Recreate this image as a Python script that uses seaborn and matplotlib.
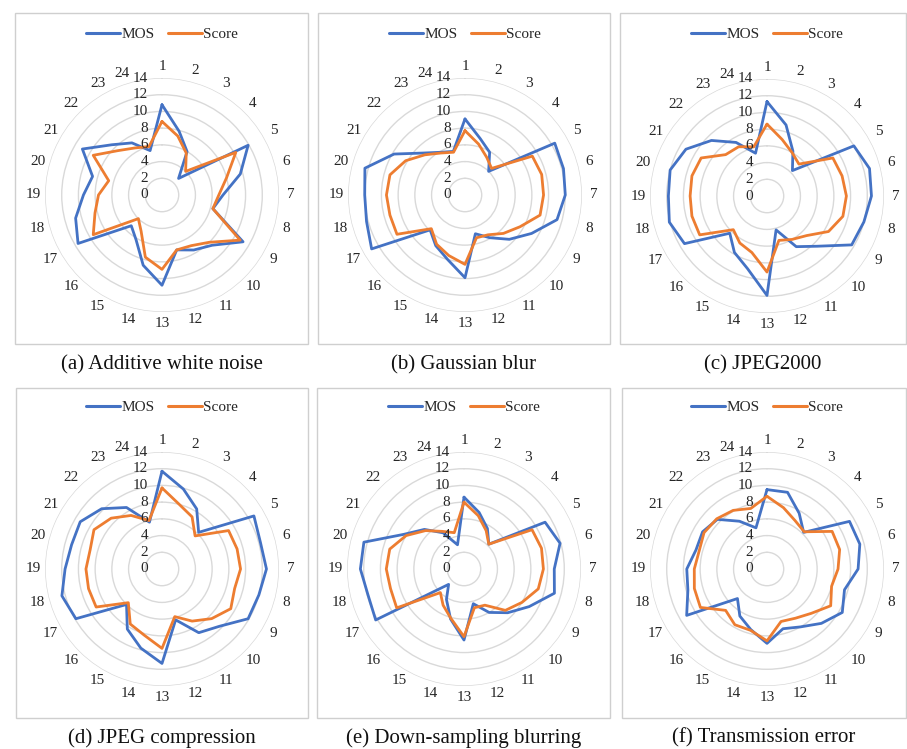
import numpy as np
import matplotlib
matplotlib.use("Agg")
import matplotlib.pyplot as plt
from matplotlib.lines import Line2D
from matplotlib.patches import Rectangle
from matplotlib.transforms import ScaledTranslation
import seaborn as sns

# ---------------- data ----------------
categories = [str(i) for i in range(1, 25)]
r_ticks = [0, 2, 4, 6, 8, 10, 12, 14]
series_names = ["MOS", "Score"]
captions = ["(a) Additive white noise", "(b) Gaussian blur", "(c) JPEG2000",
            "(d) JPEG compression", "(e) Down-sampling blurring", "(f) Transmission error"]

a_mos = [10.8, 7.9, 6.0, 2.8, 11.9, 9.7, 7.3, 6.3, 11.2, 8.5, 7.6, 6.8,
         10.8, 8.7, 6.2, 5.2, 11.6, 10.7, 9.4, 8.6, 11.0, 8.5, 7.2, 5.5]
a_score = [8.8, 7.3, 5.8, 4.0, 10.2, 8.0, 6.8, 6.3, 10.8, 8.0, 7.0, 6.8,
           8.9, 7.7, 5.0, 4.0, 9.5, 8.3, 7.6, 6.6, 9.5, 7.5, 6.5, 6.0]
b_mos = [9.1, 7.0, 5.9, 4.0, 12.4, 12.2, 12.0, 11.4, 9.2, 7.5, 5.9, 4.8,
         9.9, 8.0, 7.0, 5.9, 12.9, 12.2, 12.0, 12.4, 9.8, 7.1, 5.9, 5.4]
b_score = [7.7, 6.3, 5.2, 4.5, 9.3, 9.5, 9.4, 9.3, 7.6, 6.5, 5.5, 5.3,
           8.3, 7.5, 6.8, 5.7, 9.4, 9.3, 9.4, 9.3, 8.2, 6.8, 5.8, 5.3]
c_mos = [11.3, 8.8, 6.2, 4.3, 12.0, 12.7, 12.5, 12.0, 11.7, 8.5, 7.0, 4.2,
         11.9, 9.0, 7.8, 6.3, 11.4, 12.1, 11.8, 12.0, 11.2, 9.4, 7.4, 5.3]
c_score = [8.6, 7.0, 6.0, 5.4, 9.1, 9.3, 9.5, 9.4, 8.5, 6.7, 6.0, 5.5,
           9.1, 7.0, 6.5, 5.7, 9.3, 9.3, 9.2, 9.3, 9.1, 7.0, 6.8, 6.1]
d_mos = [11.7, 9.9, 8.3, 6.2, 12.7, 12.2, 12.5, 12.0, 11.9, 9.7, 8.8, 6.3,
         11.3, 9.8, 8.3, 6.0, 11.9, 12.4, 11.6, 11.2, 11.3, 10.2, 8.5, 5.8]
d_score = [9.7, 8.0, 7.2, 5.6, 9.2, 9.3, 9.4, 9.0, 9.5, 8.4, 7.2, 5.9,
           9.5, 8.2, 7.6, 5.7, 9.1, 9.1, 9.1, 8.9, 9.4, 8.6, 7.4, 6.0]
e_mos = [8.6, 7.0, 5.6, 4.2, 11.2, 11.9, 10.8, 11.2, 9.0, 7.4, 6.0, 4.3,
         8.5, 6.2, 4.2, 2.6, 12.2, 11.9, 12.4, 12.4, 8.3, 6.7, 5.0, 3.0]
e_score = [8.0, 6.6, 5.3, 4.2, 9.4, 9.6, 9.5, 9.2, 8.0, 7.0, 5.0, 4.8,
           8.1, 6.1, 5.0, 4.0, 9.3, 9.1, 9.3, 9.2, 8.0, 6.5, 5.2, 4.5]
f_mos = [9.5, 9.5, 7.7, 6.2, 11.4, 11.5, 10.9, 9.6, 10.4, 9.2, 8.0, 7.4,
         8.9, 7.5, 6.5, 5.0, 11.1, 9.8, 9.6, 8.8, 8.9, 8.4, 6.6, 5.1]
f_score = [8.7, 7.6, 6.7, 6.3, 9.0, 9.0, 8.5, 8.0, 8.8, 7.5, 6.8, 6.5,
           8.6, 7.6, 7.7, 7.0, 9.2, 9.0, 8.7, 8.4, 8.7, 8.5, 8.1, 7.5]

panels = [(a_mos, a_score), (b_mos, b_score), (c_mos, c_score),
          (d_mos, d_score), (e_mos, e_score), (f_mos, f_score)]

# ---------------- style ----------------
sns.set_theme(style="white")
plt.rcParams["font.family"] = ["Liberation Serif", "DejaVu Serif"]

W, H = 907, 749
fig = plt.figure(figsize=(W / 100, H / 100), dpi=100)
fig.patch.set_facecolor("white")

BLUE = "#4472C4"
ORANGE = "#ED7D31"
GRID = "#D9D9D9"
TXT = "#262626"

# layout in pixels (centre of radar, box extents, caption position)
centers = [(162, 195), (465, 195), (767, 196), (162, 569), (464, 569), (767, 569)]
boxes = [(15, 13, 308, 344), (318, 13, 610, 344), (620, 13, 906, 344),
         (16, 388, 308, 718), (317, 388, 610, 718), (622, 388, 906, 718)]
caption_y = [365, 365, 365, 738, 738, 738]
legend_y = [34, 34, 34, 407, 407, 407]
R_PX = 117

theta = np.linspace(0, 2 * np.pi, len(categories), endpoint=False)
theta_closed = np.append(theta, 2 * np.pi)

for i, (mos, score) in enumerate(panels):
    x0, y0, x1, y1 = boxes[i]
    fig.add_artist(Rectangle((x0 / W, 1 - y1 / H), (x1 - x0) / W, (y1 - y0) / H,
                             transform=fig.transFigure, fill=False,
                             edgecolor="#CFCFCF", lw=1.0, zorder=0))
    cx, cy = centers[i]
    ax = fig.add_axes([(cx - R_PX) / W, 1 - (cy + R_PX) / H, 2 * R_PX / W, 2 * R_PX / H],
                      projection="polar")
    ax.set_facecolor("none")
    ax.set_theta_zero_location("N")
    ax.set_theta_direction(-1)
    ax.set_ylim(0, 14)
    ax.set_xticks([])
    ax.set_yticks(r_ticks[1:])
    ax.set_yticklabels([])
    ax.yaxis.grid(True, color=GRID, lw=1.0)
    ax.xaxis.grid(False)
    ax.spines["polar"].set_visible(False)

    for vals, col in ((mos, BLUE), (score, ORANGE)):
        rr = np.append(np.asarray(vals, float), vals[0])
        sns.lineplot(x=theta_closed, y=rr, ax=ax, color=col, lw=2.0,
                     sort=False, estimator=None, legend=False)
    ax.set_xlabel("")
    ax.set_ylabel("")

    for t, lab in zip(theta, categories):
        if t > 1.85 * np.pi:
            ax.text(t, 15.1, lab, ha="right", va="center", fontsize=11, color=TXT)
        else:
            ax.text(t, 15.4, lab, ha="center", va="center", fontsize=11, color=TXT)
    off = ax.transData + ScaledTranslation(-10 / 72, 0, fig.dpi_scale_trans)
    for v in r_ticks:
        ax.text(0, v, str(v), transform=off, ha="right", va="center",
                fontsize=11, color=TXT)

    handles = [Line2D([], [], color=BLUE, lw=2.2), Line2D([], [], color=ORANGE, lw=2.2)]
    fig.legend(handles, series_names, loc="center",
               bbox_to_anchor=(cx / W, 1 - legend_y[i] / H), bbox_transform=fig.transFigure,
               ncol=2, frameon=False, fontsize=11, handlelength=2.2,
               handletextpad=0.1, columnspacing=0.9)

    fig.text(((x0 + x1) / 2) / W, 1 - caption_y[i] / H, captions[i],
             ha="center", va="center", fontsize=15, color="#111111")

fig.savefig("out.png", dpi=100, facecolor="white")
